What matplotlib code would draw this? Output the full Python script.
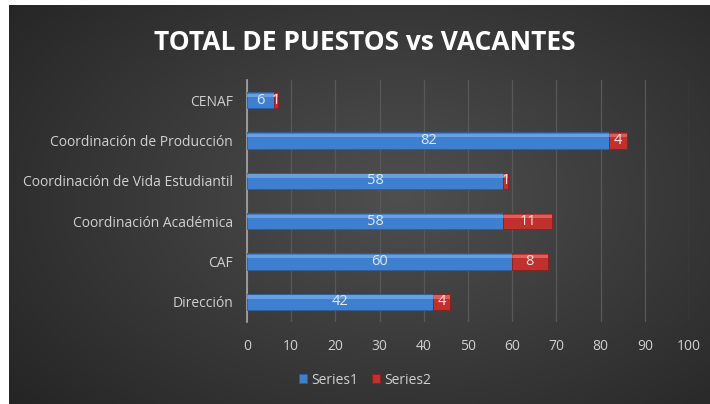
import matplotlib.pyplot as plt
import matplotlib.patches as mpatches
import numpy as np

categorias = ['Dirección', 'CAF', 'Coordinación Académica',
              'Coordinación de Vida Estudiantil', 'Coordinación de Producción', 'CENAF']
series1 = [42, 60, 58, 58, 82, 6]
series2 = [4, 8, 11, 1, 4, 1]
ticks_x = [0, 10, 20, 30, 40, 50, 60, 70, 80, 90, 100]

plt.rcParams['font.family'] = ['Open Sans', 'DejaVu Sans']

fig = plt.figure(figsize=(7.10, 4.04), dpi=100)
fig.patch.set_facecolor('#262626')

# fondo con degradado radial
yy, xx = np.mgrid[0:399, 0:701]
d = np.sqrt(((xx - 390) / 520.0) ** 2 + ((yy - 190) / 330.0) ** 2)
d = np.clip(d, 0, 1)
gris = 0.31 - 0.17 * d
fondo = np.dstack([gris, gris, gris])
fig.figimage(fondo, xo=9, yo=0, origin='upper', zorder=-5)
# borde blanco arriba e izquierda
fig.patches.append(mpatches.Rectangle((0, 0), 9 / 710, 1, transform=fig.transFigure,
                                      facecolor='white', edgecolor='none', zorder=-4))
fig.patches.append(mpatches.Rectangle((0, 1 - 5 / 404), 1, 5 / 404, transform=fig.transFigure,
                                      facecolor='white', edgecolor='none', zorder=-4))

ax = fig.add_axes([247 / 710, 1 - 322 / 404, 442 / 710, 242 / 404])
ax.set_zorder(2)
ax.patch.set_alpha(0)

y = np.arange(len(categorias))
h = 0.4
b1 = ax.barh(y, series1, height=h, color='#3f7fd0', edgecolor='#2a5da0', linewidth=0.6, zorder=3)
b2 = ax.barh(y, series2, left=series1, height=h, color='#c0302d', edgecolor='#8c1f1e', linewidth=0.6, zorder=3)
# brillo en la parte superior de las barras
ax.barh(y + h * 0.3, series1, height=h * 0.22, color='#8db8ee', alpha=0.55, linewidth=0, zorder=4)
ax.barh(y + h * 0.3, series2, left=series1, height=h * 0.22, color='#ee8a86', alpha=0.55, linewidth=0, zorder=4)

for i in range(len(categorias)):
    ax.text(series1[i] / 2, y[i], str(series1[i]), ha='center', va='center',
            color='#dde8f5', fontsize=10.5, zorder=5)
    ax.text(series1[i] + series2[i] / 2, y[i], str(series2[i]), ha='center', va='center',
            color='#f7e0df', fontsize=10.5, zorder=5)

ax.set_xlim(0, 100)
ax.set_ylim(-0.5, len(categorias) - 0.5)
ax.set_xticks(ticks_x)
ax.set_yticks(y)
ax.set_yticklabels(categorias)
ax.tick_params(axis='both', length=0, colors='#d0d0d0', labelsize=10)
ax.tick_params(axis='x', pad=12)
ax.tick_params(axis='y', pad=10)
ax.grid(axis='x', color='#585858', linewidth=0.9, zorder=0)
for s in ['top', 'right', 'bottom']:
    ax.spines[s].set_visible(False)
ax.spines['left'].set_color('#a8a8a8')
ax.spines['left'].set_linewidth(1.2)

fig.text(365 / 710, 1 - 42 / 404, 'TOTAL DE PUESTOS vs VACANTES', ha='center', va='center',
         color='white', fontsize=19, fontweight='bold')

leg = fig.legend([b1, b2], ['Series1', 'Series2'], loc='center', bbox_to_anchor=(365 / 710, 1 - 380 / 404),
                 ncol=2, frameon=False, fontsize=10, handlelength=0.6, handleheight=0.6,
                 handletextpad=0.3, columnspacing=1.0)
for t in leg.get_texts():
    t.set_color('#d0d0d0')

fig.savefig('out.png', dpi=100, facecolor=fig.get_facecolor())
